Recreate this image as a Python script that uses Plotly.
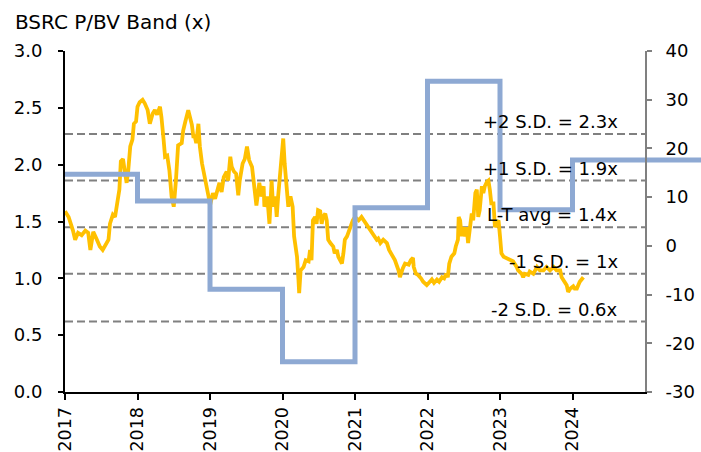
import plotly.graph_objects as go

# ---- data ----
pbv_years = [
    2017.00, 2017.05, 2017.11, 2017.14, 2017.18, 2017.23, 2017.28, 2017.32, 2017.35, 2017.39,
    2017.44, 2017.48, 2017.52, 2017.55, 2017.60, 2017.62, 2017.66, 2017.69, 2017.72, 2017.75,
    2017.77, 2017.80, 2017.83, 2017.85, 2017.87, 2017.90, 2017.93, 2017.95, 2017.98, 2018.00,
    2018.03, 2018.07, 2018.10, 2018.14, 2018.17, 2018.21, 2018.24, 2018.27, 2018.31, 2018.33,
    2018.36, 2018.38, 2018.41, 2018.44, 2018.47, 2018.50, 2018.53, 2018.56, 2018.61, 2018.63,
    2018.66, 2018.70, 2018.75, 2018.77, 2018.79, 2018.81, 2018.84, 2018.86, 2018.89, 2018.91,
    2018.94, 2018.98, 2019.00, 2019.04, 2019.07, 2019.10, 2019.13, 2019.16, 2019.19, 2019.23,
    2019.25, 2019.28, 2019.30, 2019.33, 2019.36, 2019.39, 2019.41, 2019.45, 2019.48, 2019.51,
    2019.54, 2019.58, 2019.61, 2019.64, 2019.68, 2019.71, 2019.74, 2019.75, 2019.79, 2019.82,
    2019.85, 2019.87, 2019.90, 2019.92, 2019.94, 2019.97, 2019.99, 2020.01, 2020.03, 2020.06,
    2020.08, 2020.11, 2020.14, 2020.16, 2020.20, 2020.22, 2020.23, 2020.25, 2020.29, 2020.32,
    2020.36, 2020.38, 2020.40, 2020.42, 2020.45, 2020.47, 2020.49, 2020.52, 2020.54, 2020.56,
    2020.59, 2020.61, 2020.63, 2020.66, 2020.70, 2020.72, 2020.75, 2020.77, 2020.79, 2020.82,
    2020.84, 2020.86, 2020.89, 2020.93, 2020.97, 2021.00, 2021.05, 2021.09, 2021.12, 2021.16,
    2021.21, 2021.25, 2021.30, 2021.32, 2021.35, 2021.39, 2021.44, 2021.47, 2021.51, 2021.55,
    2021.60, 2021.62, 2021.66, 2021.69, 2021.74, 2021.77, 2021.80, 2021.81, 2021.84, 2021.87,
    2021.91, 2021.94, 2021.99, 2022.02, 2022.06, 2022.09, 2022.13, 2022.16, 2022.20, 2022.23,
    2022.26, 2022.28, 2022.30, 2022.33, 2022.37, 2022.39, 2022.42, 2022.43, 2022.45, 2022.47,
    2022.49, 2022.52, 2022.54, 2022.56, 2022.59, 2022.61, 2022.63, 2022.66, 2022.68, 2022.70,
    2022.72, 2022.75, 2022.77, 2022.79, 2022.82, 2022.84, 2022.86, 2022.88, 2022.91, 2022.93,
    2022.95, 2022.98, 2023.00, 2023.02, 2023.05, 2023.09, 2023.14, 2023.18, 2023.23, 2023.25,
    2023.30, 2023.32, 2023.34, 2023.39, 2023.41, 2023.46, 2023.51, 2023.55, 2023.60, 2023.64,
    2023.69, 2023.74, 2023.78, 2023.83, 2023.85, 2023.87, 2023.92, 2023.94, 2023.97, 2024.01,
    2024.03, 2024.06, 2024.10, 2024.15,
]
pbv_values = [
    1.59, 1.54, 1.42, 1.34, 1.40, 1.38, 1.42, 1.40, 1.25, 1.41,
    1.34, 1.28, 1.25, 1.29, 1.34, 1.48, 1.56, 1.54, 1.69, 1.78,
    2.03, 2.05, 1.92, 1.84, 1.93, 2.16, 2.22, 2.36, 2.38, 2.51,
    2.55, 2.57, 2.54, 2.48, 2.36, 2.45, 2.48, 2.44, 2.51, 2.42,
    2.22, 2.07, 2.08, 1.95, 1.72, 1.63, 1.86, 2.17, 2.19, 2.30,
    2.38, 2.48, 2.35, 2.25, 2.25, 2.19, 2.36, 2.16, 2.01, 1.95,
    1.84, 1.72, 1.64, 1.75, 1.70, 1.79, 1.84, 1.76, 1.89, 1.94,
    1.86, 2.07, 1.98, 1.94, 1.92, 1.73, 1.86, 2.01, 2.05, 2.16,
    2.04, 1.98, 1.81, 1.64, 1.84, 1.72, 1.81, 1.63, 1.72, 1.48,
    1.86, 1.63, 1.72, 1.54, 1.72, 1.92, 2.13, 2.23, 2.01, 1.72,
    1.63, 1.72, 1.63, 1.37, 1.19, 0.99, 0.87, 1.07, 1.10, 1.16,
    1.15, 1.25, 1.16, 1.51, 1.54, 1.48, 1.60, 1.59, 1.48, 1.54,
    1.57, 1.51, 1.34, 1.31, 1.28, 1.22, 1.25, 1.19, 1.16, 1.13,
    1.22, 1.34, 1.37, 1.45, 1.51, 1.54, 1.51, 1.54, 1.51, 1.48,
    1.42, 1.38, 1.34, 1.35, 1.31, 1.34, 1.31, 1.25, 1.20, 1.16,
    1.07, 1.01, 1.09, 1.13, 1.12, 1.16, 1.18, 1.10, 1.04, 1.03,
    1.00, 0.97, 0.94, 0.96, 0.99, 0.96, 0.99, 0.97, 1.01, 1.00,
    1.04, 1.01, 1.13, 1.19, 1.22, 1.28, 1.34, 1.54, 1.51, 1.37,
    1.45, 1.37, 1.45, 1.31, 1.45, 1.57, 1.51, 1.75, 1.78, 1.54,
    1.60, 1.81, 1.75, 1.81, 1.85, 1.86, 1.78, 1.66, 1.66, 1.45,
    1.48, 1.51, 1.37, 1.22, 1.19, 1.18, 1.16, 1.15, 1.10, 1.07,
    1.04, 1.01, 1.04, 1.03, 1.06, 1.04, 1.10, 1.07, 1.07, 1.10,
    1.07, 1.10, 1.07, 1.07, 1.01, 0.99, 0.94, 0.88, 0.91, 0.93,
    0.91, 0.91, 0.97, 1.01,
]

# right-axis step series (annual)
step_years = [2017, 2018, 2019, 2020, 2021, 2022, 2023, 2024, 2026]
step_values = [14.7, 9.2, -8.9, -23.8, 7.8, 33.8, 7.4, 17.6, 17.6]

band_labels = ["+2 S.D. = 2.3x", "+1 S.D. = 1.9x", "L-T avg = 1.4x", "-1 S.D. = 1x", "-2 S.D. = 0.6x"]
band_values = [2.27, 1.86, 1.45, 1.04, 0.62]

year_ticks = [2017, 2018, 2019, 2020, 2021, 2022, 2023, 2024]
year_labels = ["2017", "2018", "2019", "2020", "2021", "2022", "2023", "2024"]

# ---- layout geometry ----
W, H = 701, 452
ML, MR, MT, MB = 65, 0, 51, 60
axis_end_px = 645
x_dom_end = (axis_end_px - ML) / (W - ML - MR)
x_min, x_max = 2017, 2025
x3_max = x_min + (x_max - x_min) / x_dom_end

FONT = "DejaVu Sans, Liberation Sans, Arial, sans-serif"

fig = go.Figure()

for v in band_values:
    fig.add_trace(go.Scatter(
        x=[x_min, x_max], y=[v, v], mode="lines",
        line=dict(color="#808080", width=2, dash="8px,4px"),
        hoverinfo="skip", showlegend=False, xaxis="x", yaxis="y",
    ))

fig.add_trace(go.Scatter(
    x=pbv_years, y=pbv_values, mode="lines",
    line=dict(color="#FFC000", width=3.8),
    showlegend=False, xaxis="x", yaxis="y",
))

fig.add_trace(go.Scatter(
    x=step_years, y=step_values, mode="lines",
    line=dict(color="#8EA9D3", width=5, shape="hv"),
    showlegend=False, xaxis="x3", yaxis="y2",
))

for lab, v in zip(band_labels, band_values):
    fig.add_annotation(
        x=2024.65, y=v, xref="x", yref="y", text=lab, showarrow=False,
        xanchor="right", yanchor="bottom", yshift=0,
        font=dict(family=FONT, size=18, color="black"),
    )

fig.update_layout(
    width=W, height=H,
    margin=dict(l=ML, r=MR, t=MT, b=MB, autoexpand=False),
    paper_bgcolor="white", plot_bgcolor="rgba(0,0,0,0)",
    font=dict(family=FONT, size=18, color="black"),
    title=dict(
        text="BSRC P/BV Band (x)", x=15 / W, xanchor="left", xref="container",
        y=1 - 22 / H, yanchor="middle", yref="container",
        font=dict(family=FONT, size=20, color="black"),
    ),
    xaxis=dict(
        domain=[0, x_dom_end], range=[x_min, x_max],
        tickvals=year_ticks, ticktext=year_labels, tickangle=-90,
        ticks="outside", ticklen=6, tickwidth=2, tickcolor="black",
        showline=True, linecolor="black", linewidth=2,
        showgrid=False, zeroline=False, ticklabelstandoff=0,
        tickfont=dict(size=17.5), anchor="y",
    ),
    xaxis3=dict(
        domain=[0, 1], range=[x_min, x3_max], visible=False,
        anchor="y2", showgrid=False, zeroline=False,
    ),
    yaxis=dict(
        range=[0, 3], tickvals=[0, 0.5, 1, 1.5, 2, 2.5, 3], tickformat=".1f",
        ticks="outside", ticklen=5, tickwidth=2, tickcolor="black",
        showline=True, linecolor="black", linewidth=2,
        showgrid=False, zeroline=False, ticklabelstandoff=12,
        tickfont=dict(size=18), anchor="x",
    ),
    yaxis2=dict(
        range=[-30, 40], tickvals=[-30, -20, -10, 0, 10, 20, 30, 40],
        ticktext=["-30", "-20", "-10", "0", "10", "20", "30", "40"],
        overlaying="y", side="right", anchor="x",
        ticks="outside", ticklen=5, tickwidth=2, tickcolor="#808080",
        showline=True, linecolor="#808080", linewidth=2,
        showgrid=False, zeroline=False, ticklabelstandoff=10,
        tickfont=dict(size=18),
    ),
)

fig.write_html(
    "out.html",
    config={"displayModeBar": False},
    post_script="document.body.style.margin='0';",
)
